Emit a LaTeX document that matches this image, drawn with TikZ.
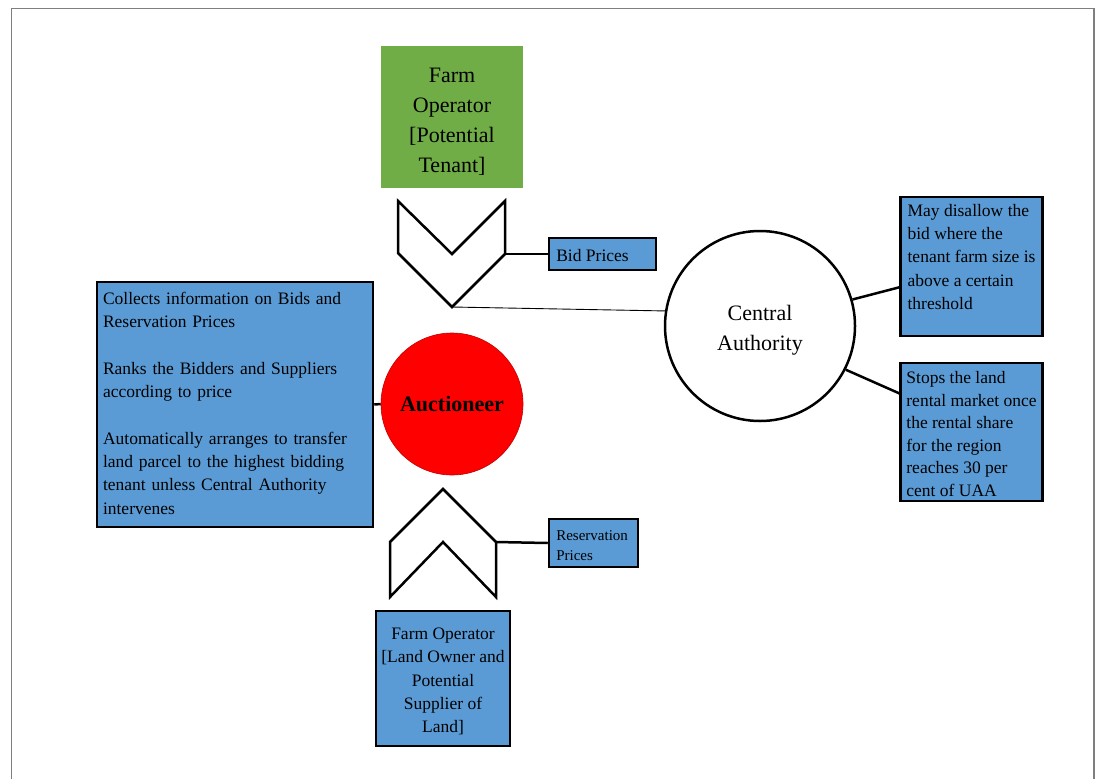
\documentclass[tikz,border=0pt]{standalone}
\usepackage{fontspec}
\setmainfont{Liberation Serif}
\usetikzlibrary{calc}
\definecolor{boxblue}{HTML}{5B9BD5}
\definecolor{boxgreen}{HTML}{70AD47}
\definecolor{framegray}{HTML}{7F7F7F}
\tikzset{
  bluebox/.style={draw=black, line width=2.5pt, fill=boxblue, inner ysep=0pt},
  bodytext/.style={font=\fontsize{17.5}{23.3}\selectfont},
  bigtext/.style={font=\fontsize{22}{30}\selectfont},
  chevron/.style={draw=black, line width=2.5pt, fill=white},
  link/.style={draw=black, line width=2.5pt},
  thinlink/.style={draw=black, line width=0.9pt},
}
\begin{document}
\begin{tikzpicture}[x=1pt,y=-1pt]
\useasboundingbox (0,0) rectangle (1099,779);
% page frame
\draw[framegray, line width=1.8pt] (11.5,779) -- (11.5,8.5) -- (1094,8.5) -- (1094,779);

% Farm operator (tenant)
\node[fill=boxgreen, minimum width=142, minimum height=142, inner sep=0pt,
  label={[bigtext, align=center, yshift=-5pt]center:Farm\\Operator\\{[}Potential\\Tenant]}] (tenant) at (452,117) {};

% top chevron
\coordinate (tA) at (398,201);
\coordinate (tB) at (452,254);
\coordinate (tC) at (505,201);
\coordinate (tR) at (505,254);
\coordinate (tTip) at (452,307);
\coordinate (tL) at (398,253);
\draw[chevron] (tA) -- (tB) -- (tC) -- (tR) -- (tTip) -- (tL) -- cycle;

% Bid prices
\node[bluebox, minimum width=107, minimum height=32,
  label={[bodytext, anchor=west, xshift=5pt, yshift=-2pt]west:Bid Prices}] (bid) at (602.5,254) {};
\draw[link] (tR) -- (bid.west);

% Central authority
\node[circle, draw=black, line width=2.5pt, fill=white, minimum size=190, inner sep=0pt,
  label={[bigtext, align=center, yshift=-4pt]center:Central\\Authority}] (ca) at (760,326) {};
\draw[thinlink] (tTip) -- (ca.171);

% right boxes
\node[bluebox, bodytext, minimum width=142, minimum height=139, inner xsep=0pt, align=left] (may) at (971.5,266.5)
  {May disallow the\\bid where the\\tenant farm size is\\above a certain\\threshold\\[-4pt]\mbox{}};
\node[bluebox, minimum width=142, minimum height=138,
  label={[bodytext, align=left, yshift=-2pt, font=\fontsize{17.5}{22.6}\selectfont]center:Stops the land\\rental market once\\the rental share\\for the region\\reaches 30 per\\cent of UAA}] (stop) at (971.5,432) {};
\draw[link] (ca.16) -- ($(may.north west)!0.647!(may.south west)$);
\draw[link] (ca.-27) -- ($(stop.north west)!0.225!(stop.south west)$);

% Auctioneer
\node[circle, fill=red, draw=red!75!black, line width=0.6pt, minimum size=142, inner sep=0pt, bigtext] (auc) at (452,404) {\textbf{Auctioneer}};

% left box
\node[bluebox, bodytext, minimum width=276, minimum height=245, text width=268, inner xsep=4pt, align=left] (lbox) at (235,404.5)
  {\hspace*{2pt}\begin{tabular}{@{}l@{}}Collects information on Bids and\\Reservation Prices\\[23.3pt]Ranks the Bidders and Suppliers\\according to price\\[23.3pt]Automatically arranges to transfer\\land parcel to the highest bidding\\tenant unless Central Authority\\intervenes\end{tabular}};
\draw[link] (lbox.east) -- (auc.west);

% bottom chevron
\coordinate (bApex) at (443,489);
\coordinate (bR) at (496,542);
\coordinate (bRB) at (496,597);
\coordinate (bN) at (443,542);
\coordinate (bLB) at (390,597);
\coordinate (bL) at (390,542);
\draw[chevron] (bApex) -- (bR) -- (bRB) -- (bN) -- (bLB) -- (bL) -- cycle;

% Reservation prices
\node[bluebox, minimum width=89, minimum height=48,
  label={[font=\fontsize{15}{20}\selectfont, align=left, anchor=west, xshift=5pt, yshift=-2.5pt]west:Reservation\\Prices}] (res) at (593.5,543) {};
\draw[link] (bR) -- (res.west);

% Farm operator (owner)
\node[bluebox, minimum width=134, minimum height=135,
  label={[bodytext, align=center, yshift=-3pt]center:Farm Operator\\{[}Land Owner and\\Potential\\Supplier of\\Land]}] (owner) at (443,678.5) {};
\end{tikzpicture}
\end{document}
